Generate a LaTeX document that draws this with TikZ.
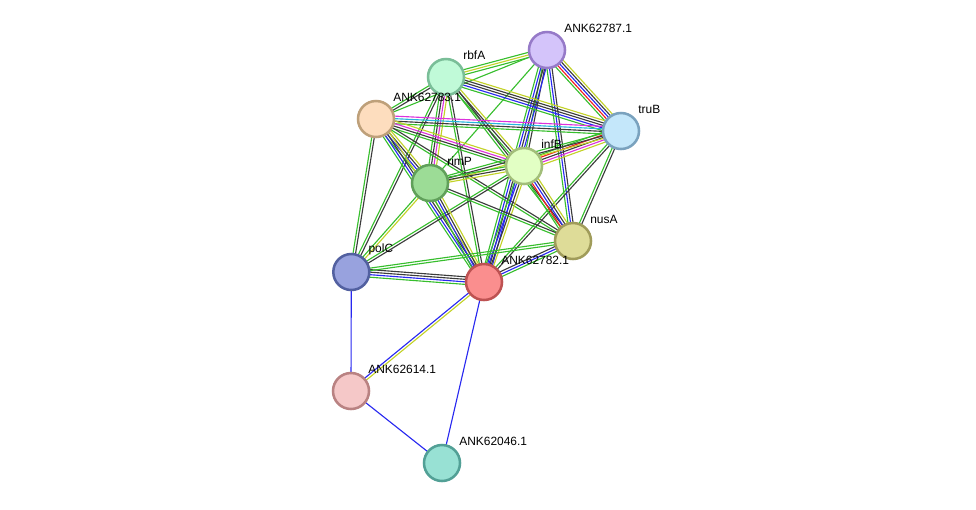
\documentclass[tikz,border=0pt]{standalone}
\usepackage{fontspec}
\setmainfont{Liberation Sans}
\usetikzlibrary{calc}
\pgfdeclarelayer{bg}
\pgfsetlayers{bg,main}

% evidence colours
\definecolor{grn}{RGB}{55,190,45}
\definecolor{blk}{RGB}{60,60,60}
\definecolor{blu}{RGB}{40,40,240}
\definecolor{yel}{RGB}{195,210,40}
\definecolor{mag}{RGB}{220,50,220}
\definecolor{cya}{RGB}{40,180,220}
\definecolor{red}{RGB}{240,30,30}

% bundle of parallel lines between two proteins
\newcommand\link[3]{%
  \foreach \col [count=\m] in {#3} {\xdef\nlines{\m}}%
  \foreach \col [count=\k] in {#3} {%
    \pgfmathsetmacro\off{(\k-(\nlines+1)/2)*1.8}%
    \draw[\col,line width=0.8pt] ($(#1.center)!\off pt!90:(#2.center)$) -- ($(#2.center)!\off pt!-90:(#1.center)$);
  }}

\begin{document}
\begin{tikzpicture}[x=0.025cm,y=-0.025cm,
  prot/.style 2 args={circle,minimum size=0.9cm,inner sep=0pt,line width=1.8pt,fill=#1,draw=#2},
  lbl/.style={font=\fontsize{8.5}{10}\selectfont,label distance=2pt,inner sep=1pt}]
  \useasboundingbox (0,0) rectangle (976,509);
  % proteins
  \definecolor{f87}{RGB}{212,196,250}\definecolor{d87}{RGB}{150,122,200}
  \definecolor{frb}{RGB}{192,250,216}\definecolor{drb}{RGB}{122,190,152}
  \definecolor{f83}{RGB}{253,221,190}\definecolor{d83}{RGB}{190,160,122}
  \definecolor{ftr}{RGB}{196,231,250}\definecolor{dtr}{RGB}{122,162,190}
  \definecolor{fin}{RGB}{226,255,196}\definecolor{din}{RGB}{162,190,122}
  \definecolor{fri}{RGB}{156,220,150}\definecolor{dri}{RGB}{96,160,90}
  \definecolor{fnu}{RGB}{222,220,152}\definecolor{dnu}{RGB}{160,156,90}
  \definecolor{fpo}{RGB}{152,162,222}\definecolor{dpo}{RGB}{82,96,160}
  \definecolor{f82}{RGB}{250,142,142}\definecolor{d82}{RGB}{190,82,82}
  \definecolor{f14}{RGB}{245,200,200}\definecolor{d14}{RGB}{185,130,130}
  \definecolor{f46}{RGB}{152,225,212}\definecolor{d46}{RGB}{82,160,150}
  \node[prot={f87}{d87},label={[lbl]45:ANK62787.1}] (n87) at (547,50) {};
  \node[prot={frb}{drb},label={[lbl]45:rbfA}] (rbfA) at (446,77) {};
  \node[prot={f83}{d83},label={[lbl]45:ANK62783.1}] (n83) at (376,119) {};
  \node[prot={ftr}{dtr},label={[lbl]45:truB}] (truB) at (621,131) {};
  \node[prot={fin}{din},label={[lbl]45:infB}] (infB) at (524,166) {};
  \node[prot={fri}{dri},label={[lbl]45:rimP}] (rimP) at (430,183) {};
  \node[prot={fnu}{dnu},label={[lbl]45:nusA}] (nusA) at (573,241) {};
  \node[prot={fpo}{dpo},label={[lbl]45:polC}] (polC) at (351.3,272) {};
  \node[prot={f82}{d82},label={[lbl]45:ANK62782.1}] (n82) at (484,282) {};
  \node[prot={f14}{d14},label={[lbl]45:ANK62614.1}] (n14) at (351,391) {};
  \node[prot={f46}{d46},label={[lbl]45:ANK62046.1}] (n46) at (442,463) {};
  % interactions
  \begin{pgfonlayer}{bg}
    \link{n87}{rbfA}{grn,yel,grn}
    \link{n87}{n83}{grn}
    \link{n87}{truB}{grn,red,blu,blk,yel}
    \link{n87}{infB}{grn,blk}
    \link{n87}{n82}{grn,blu,blk,blu}
    \link{n87}{nusA}{grn,blu,blk}
    \link{n87}{rimP}{grn}
    \link{rbfA}{truB}{grn,blu,blk,blk,yel}
    \link{rbfA}{n83}{grn,blk}
    \link{rbfA}{infB}{grn,blk,yel}
    \link{rbfA}{rimP}{grn,blk,mag,yel}
    \link{rbfA}{n82}{grn,blk}
    \link{rbfA}{polC}{grn,blk}
    \link{rbfA}{nusA}{grn,blk}
    \link{n83}{truB}{grn,blk,cya,mag}
    \link{n83}{infB}{grn,blk,mag,yel}
    \link{n83}{rimP}{grn,blu,blk,yel}
    \link{n83}{polC}{grn,blk}
    \link{n83}{n82}{grn,blu,blk,yel}
    \link{n83}{nusA}{grn,blk}
    \link{truB}{infB}{grn,red,blk,mag,yel}
    \link{truB}{rimP}{grn,blk,yel}
    \link{truB}{nusA}{grn,blk}
    \link{truB}{n82}{grn,blk}
    \link{infB}{rimP}{grn,blk,yel}
    \link{infB}{nusA}{grn,red,blu,blk,yel}
    \link{infB}{n82}{grn,blu,blk,yel}
    \link{infB}{polC}{grn,blk}
    \link{rimP}{n82}{grn,blu,blk,yel}
    \link{rimP}{polC}{grn,yel}
    \link{rimP}{nusA}{grn,blk}
    \link{polC}{n82}{grn,blu,blk,blk}
    \link{polC}{nusA}{grn,grn}
    \link{n82}{nusA}{grn,blu,blk}
    \link{n82}{n14}{blu,yel}
    \link{polC}{n14}{blu}
    \link{n14}{n46}{blu}
    \link{n82}{n46}{blu}
  \end{pgfonlayer}
\end{tikzpicture}
\end{document}
